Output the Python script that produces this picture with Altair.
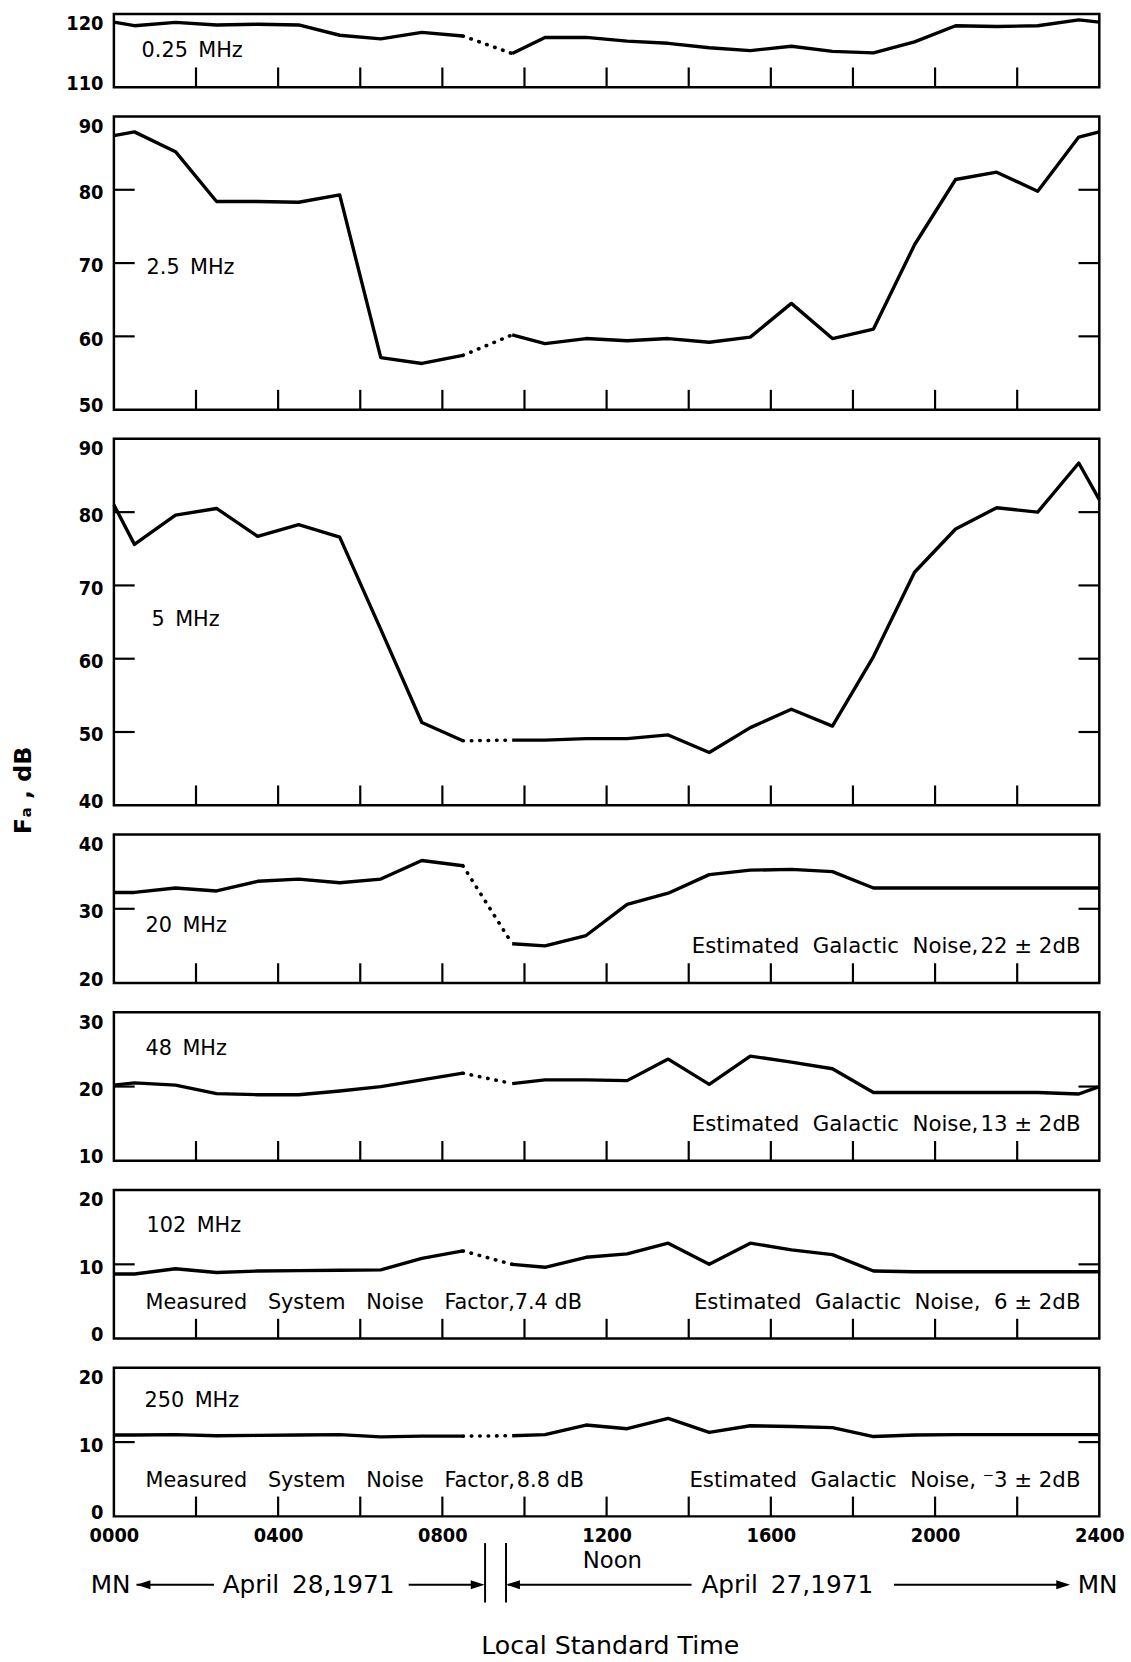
import altair as alt
import pandas as pd

# Reading times (local standard time, hours). Readings were taken on the half hour;
# the 0830 -> 0940 interval is a data gap that is bridged with a dotted line.
HOURS = [0, 0.5, 1.5, 2.5, 3.5, 4.5, 5.5, 6.5, 7.5, 8.5, 9.7,
         10.5, 11.5, 12.5, 13.5, 14.5, 15.5, 16.5, 17.5, 18.5,
         19.5, 20.5, 21.5, 22.5, 23.5, 24]
GAP_START = 9  # index of the last reading before the gap

# Fa (dB above kTB) for each frequency
FA_0_25 = [118.9, 118.4, 118.85, 118.5, 118.6, 118.5, 117.1, 116.6, 117.5, 117.0,
           114.6, 116.8, 116.8, 116.3, 116.0, 115.4, 115.0, 115.6, 114.9, 114.7,
           116.2, 118.4, 118.3, 118.4, 119.2, 118.9]
FA_2_5 = [87.4, 87.9, 85.2, 78.4, 78.4, 78.3, 79.3, 57.1, 56.3, 57.4,
          60.2, 59.0, 59.7, 59.4, 59.7, 59.2, 59.9, 64.5, 59.7, 61.0,
          72.5, 81.4, 82.4, 79.8, 87.2, 87.9]
FA_5 = [81.0, 75.6, 79.6, 80.5, 76.7, 78.3, 76.6, 64.0, 51.3, 48.8,
        48.9, 48.9, 49.1, 49.1, 49.6, 47.2, 50.6, 53.1, 50.8, 60.3,
        71.8, 77.7, 80.6, 80.0, 86.7, 81.7]
FA_20 = [32.2, 32.2, 32.8, 32.4, 33.7, 34.0, 33.5, 34.0, 36.5, 35.8,
         25.3, 25.0, 26.4, 30.6, 32.1, 34.6, 35.2, 35.3, 35.0, 32.8,
         32.8, 32.8, 32.8, 32.8, 32.8, 32.8]
FA_48 = [20.2, 20.5, 20.2, 19.05, 18.9, 18.9, 19.4, 20.0, 20.9, 21.8,
         20.4, 20.9, 20.9, 20.8, 23.7, 20.3, 24.1, 23.3, 22.4, 19.2,
         19.2, 19.2, 19.2, 19.2, 19.0, 20.0]
FA_102 = [8.7, 8.7, 9.4, 8.9, 9.1, 9.15, 9.2, 9.25, 10.8, 11.8,
          10.0, 9.6, 10.95, 11.4, 12.85, 10.0, 12.85, 11.95, 11.3, 9.1,
          9.0, 9.0, 9.0, 9.0, 9.0, 9.0]
FA_250 = [10.95, 10.95, 11.0, 10.85, 10.9, 10.95, 11.0, 10.7, 10.8, 10.8,
          10.85, 11.0, 12.3, 11.8, 13.2, 11.3, 12.2, 12.1, 11.95, 10.75,
          10.95, 11.0, 11.0, 11.0, 11.0, 11.0]

SERIES = [FA_0_25, FA_2_5, FA_5, FA_20, FA_48, FA_102, FA_250]
FREQ_LABELS = ["0.25\u2002MHz", "2.5\u2002MHz", "5\u2002MHz", "20\u2002MHz",
               "48\u2002MHz", "102\u2002MHz", "250\u2002MHz"]
Y_DOMAINS = [(110, 120), (50, 90), (40, 90), (20, 40), (10, 30), (0, 20), (0, 20)]
Y_LABELS = [[110, 120], [50, 60, 70, 80, 90], [40, 50, 60, 70, 80, 90],
            [20, 30, 40], [10, 20, 30], [0, 10, 20], [0, 10, 20]]
GALACTIC_NOTES = [None, None, None,
                  "Estimated\u00a0 Galactic\u00a0 Noise,\u200a22 \u00b1 2dB",
                  "Estimated\u00a0 Galactic\u00a0 Noise,\u200a13 \u00b1 2dB",
                  "Estimated\u00a0 Galactic\u00a0 Noise,\u00a0 6 \u00b1 2dB",
                  "Estimated\u00a0 Galactic\u00a0 Noise,\u00a0\u207b3 \u00b1 2dB"]
SYSTEM_NOTES = [None, None, None, None, None,
                "Measured\u2003System\u2003Noise\u2003Factor,7.4 dB",
                "Measured\u2003System\u2003Noise\u2003Factor,\u200a8.8 dB"]

HOUR_TICKS = [2, 4, 6, 8, 10, 12, 14, 16, 18, 20, 22]
HOUR_LABELS = [0, 4, 8, 12, 16, 20, 24]

# Date bar under the time axis (positions in hours)
DATE_TEXT = ["MN", "April\u2009 28,1971", "April\u2009 27,1971", "MN"]
DATE_TEXT_AT = [-0.08, 4.74, 16.4, 23.96]
NOON_AT = 12.14
TITLE_AT = 12.09
ARROW_LINES = [(0.55, 2.44), (7.18, 8.85), (9.6, 14.07), (19.0, 23.0)]
ARROW_HEADS_LEFT = [0.72, 9.72]
ARROW_HEADS_RIGHT = [8.86, 23.12]
DATE_BREAK = [9.04, 9.55]

# Layout
PLOT_W = 995
PANEL_H = [74, 296, 370, 150, 150, 150, 150]
FREQ_POS = [(28, 37), (33, 153), (38, 183), (32, 92), (32, 37), (33, 36), (31, 34)]
SANS = "DejaVu Sans"
NUM_FONT = "'DejaVu Sans Condensed', 'Liberation Sans'"


def note_layer(text, x, y, align, size=21.5):
    return alt.Chart(pd.DataFrame({"t": [text]})).mark_text(
        align=align, baseline="middle", font=SANS, fontSize=size, color="black"
    ).encode(text="t:N", x=alt.value(x), y=alt.value(y))


def panel(i, bottom=False):
    lo, hi = Y_DOMAINS[i]
    height = PANEL_H[i]
    values = SERIES[i]

    rows = []
    for k, (hr, v) in enumerate(zip(HOURS, values)):
        if k <= GAP_START:
            rows.append({"hour": hr, "fa": v, "part": "before"})
        if GAP_START <= k <= GAP_START + 1:
            rows.append({"hour": hr, "fa": v, "part": "gap"})
        if k >= GAP_START + 1:
            rows.append({"hour": hr, "fa": v, "part": "after"})
    df = pd.DataFrame(rows)

    if bottom:
        x_axis = alt.Axis(values=HOUR_LABELS, labelExpr="format(datum.value * 100, '04d')",
                          ticks=False, domain=False, grid=False, title=None,
                          labelPadding=9, labelFont=NUM_FONT, labelFontSize=20,
                          labelFontWeight="bold", labelColor="black", labelFlush=False,
                          labelOverlap=False)
    else:
        x_axis = None
    x = alt.X("hour:Q", scale=alt.Scale(domain=[0, 24], nice=False, zero=False), axis=x_axis)
    y = alt.Y("fa:Q", scale=alt.Scale(domain=[lo, hi], nice=False, zero=False),
              axis=alt.Axis(values=Y_LABELS[i], format="d", ticks=False, domain=False,
                            grid=False, title=None, labelFlush=True, labelFlushOffset=3,
                            labelOffset=3, labelPadding=11, labelFont=NUM_FONT,
                            labelFontSize=20, labelFontWeight="bold", labelColor="black"))

    base = alt.Chart(df)
    solid = base.transform_filter("datum.part != 'gap'").mark_line(
        color="black", strokeWidth=3.4, strokeJoin="round"
    ).encode(x=x, y=y, detail="part:N")
    dotted = base.transform_filter("datum.part == 'gap'").mark_line(
        color="black", strokeWidth=3.6, strokeDash=[0.5, 8], strokeCap="round"
    ).encode(x=x, y=y)

    xt = alt.Chart(pd.DataFrame({"hour": HOUR_TICKS})).mark_rule(
        color="black", strokeWidth=2.2
    ).encode(x=x, y=alt.value(height), y2=alt.value(height - 20))
    inner = [v for v in Y_LABELS[i] if lo < v < hi]
    layers = [solid, dotted, xt]
    if inner:
        ydf = pd.DataFrame({"fa": inner})
        layers.append(alt.Chart(ydf).mark_rule(color="black", strokeWidth=2.2).encode(
            y=y, x=alt.value(0), x2=alt.value(21)))
        layers.append(alt.Chart(ydf).mark_rule(color="black", strokeWidth=2.2).encode(
            y=y, x=alt.value(PLOT_W - 21), x2=alt.value(PLOT_W)))

    fx, fy = FREQ_POS[i]
    layers.append(note_layer(FREQ_LABELS[i], fx, fy, "left", 21))
    if GALACTIC_NOTES[i]:
        layers.append(note_layer(GALACTIC_NOTES[i], PLOT_W - 19, height - 36, "right"))
    if SYSTEM_NOTES[i]:
        layers.append(note_layer(SYSTEM_NOTES[i], 32, height - 36, "left", 21))

    if i == 2:
        # shared ordinate title for the whole stack
        layers.append(alt.Chart(pd.DataFrame({"t": ["F\u2090 , dB"]})).mark_text(
            angle=270, align="center", baseline="middle", font=SANS, fontSize=24,
            fontWeight="bold", color="black"
        ).encode(text="t:N", x=alt.value(-91), y=alt.value(355)))

    if bottom:
        row_y = 219
        date_df = pd.DataFrame({"hour": DATE_TEXT_AT, "t": DATE_TEXT})
        layers.append(alt.Chart(date_df).mark_text(
            align="center", baseline="middle", font=SANS, fontSize=25, color="black"
        ).encode(x=x, text="t:N", y=alt.value(row_y)))
        layers.append(alt.Chart(pd.DataFrame({"hour": [NOON_AT], "t": ["Noon"]})).mark_text(
            align="center", baseline="middle", font=SANS, fontSize=23, color="black"
        ).encode(x=x, text="t:N", y=alt.value(195)))
        layers.append(alt.Chart(pd.DataFrame({"hour": [TITLE_AT],
                                              "t": ["Local Standard Time"]})).mark_text(
            align="center", baseline="middle", font=SANS, fontSize=25.5, color="black"
        ).encode(x=x, text="t:N", y=alt.value(281)))
        seg_df = pd.DataFrame({"hour": [a for a, b in ARROW_LINES],
                               "hour_end": [b for a, b in ARROW_LINES]})
        layers.append(alt.Chart(seg_df).mark_rule(color="black", strokeWidth=2).encode(
            x=x, x2="hour_end:Q", y=alt.value(row_y)))
        layers.append(alt.Chart(pd.DataFrame({"hour": ARROW_HEADS_LEFT})).mark_point(
            shape="M1,-0.65L-1,0L1,0.65Z", filled=True, color="black", opacity=1, size=196
        ).encode(x=x, y=alt.value(row_y)))
        layers.append(alt.Chart(pd.DataFrame({"hour": ARROW_HEADS_RIGHT})).mark_point(
            shape="M-1,-0.65L1,0L-1,0.65Z", filled=True, color="black", opacity=1, size=196
        ).encode(x=x, y=alt.value(row_y)))
        layers.append(alt.Chart(pd.DataFrame({"hour": DATE_BREAK})).mark_rule(
            color="black", strokeWidth=2
        ).encode(x=x, y=alt.value(177), y2=alt.value(237)))

    return alt.layer(*layers).properties(width=PLOT_W, height=height)


charts = [panel(i, bottom=(i == len(SERIES) - 1)) for i in range(len(SERIES))]

chart = alt.vconcat(*charts, spacing=29.5).properties(
    bounds="flush",
    padding={"left": 10, "top": 4, "right": 5, "bottom": 2},
    background="white",
).configure_view(stroke="black", strokeWidth=2.5)

chart.save("out.html", embed_options={"renderer": "svg", "actions": False})
